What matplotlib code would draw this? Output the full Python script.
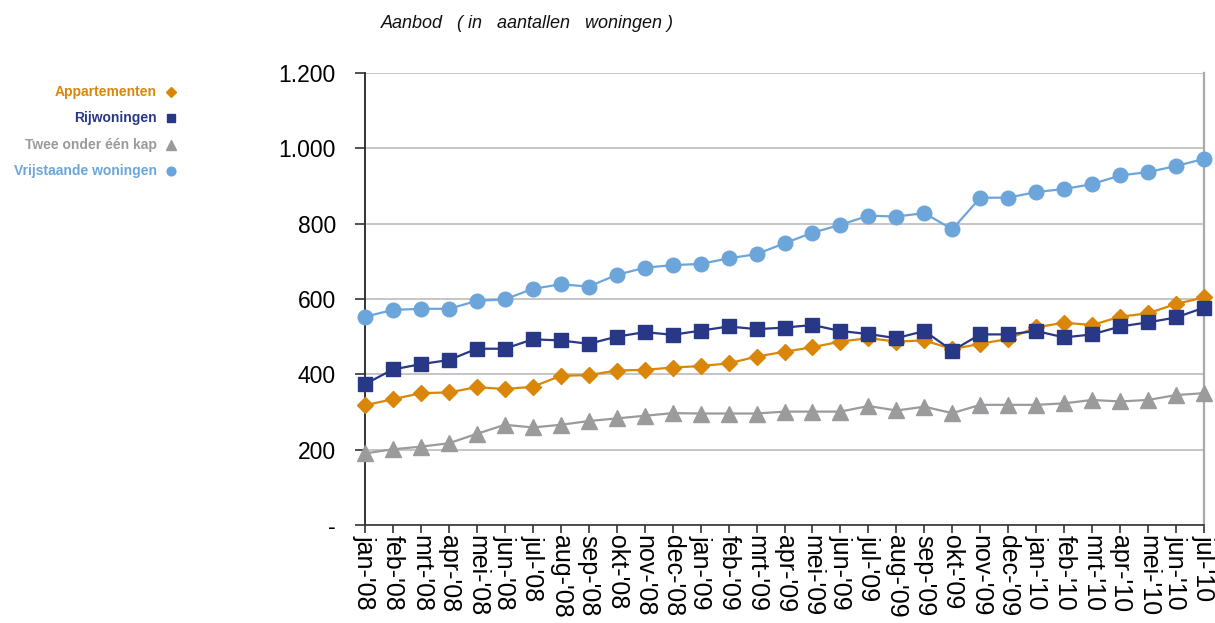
import numpy as np
import matplotlib

matplotlib.use("Agg")
import matplotlib.pyplot as plt

plt.rcParams["font.family"] = ["Liberation Sans", "DejaVu Sans"]

MONTHS = ["jan", "feb", "mrt", "apr", "mei", "jun", "jul", "aug", "sep", "okt", "nov", "dec"]
LABELS = [f"{m}-'{y:02d}" for y in (8, 9, 10) for m in MONTHS][:31]

appartementen = [318, 334, 350, 352, 366, 361, 367, 396, 398, 410, 412, 418,
                 422, 429, 447, 460, 472, 487, 496, 487, 490, 467, 481, 494,
                 525, 537, 531, 553, 562, 587, 604]
rijwoningen = [374, 413, 427, 438, 468, 468, 493, 490, 481, 500, 512, 505,
               516, 527, 520, 524, 531, 515, 507, 496, 515, 463, 506, 506,
               515, 498, 506, 527, 538, 551, 577]
twee_onder_een_kap = [190, 201, 208, 217, 242, 266, 259, 266, 276, 283, 290, 297,
                      296, 296, 296, 301, 301, 301, 316, 304, 314, 297, 319, 319,
                      319, 323, 332, 328, 332, 345, 350]
vrijstaand = [553, 571, 574, 574, 595, 599, 627, 639, 633, 664, 683, 690,
              693, 708, 719, 748, 776, 797, 821, 819, 828, 785, 869, 869,
              884, 892, 905, 928, 937, 953, 972]

SERIES = [
    ("Appartementen", appartementen, "#DA8608", "D", 8.5),
    ("Rijwoningen", rijwoningen, "#283886", "s", 10.5),
    ("Twee onder één kap", twee_onder_een_kap, "#9B9B9D", "^", 11),
    ("Vrijstaande woningen", vrijstaand, "#6CA5DA", "o", 10.5),
]

fig = plt.figure(figsize=(12.15, 6.23), dpi=100)
ax = fig.add_axes([365 / 1215, 1 - 525 / 623, (1204 - 365) / 1215, (525 - 73) / 623])

x = np.arange(len(LABELS))
for name, vals, col, mk, ms in SERIES:
    ax.plot(x, vals, color=col, lw=1.6, marker=mk, ms=ms, mec=col, clip_on=False, zorder=3)

ax.set_xlim(0, len(LABELS) - 1)
ax.set_ylim(0, 1200)
ax.set_yticks(range(0, 1201, 200))
ax.set_yticklabels(["-", "200", "400", "600", "800", "1.000", "1.200"], fontsize=16.5)
ax.set_xticks(x)
ax.set_xticklabels(LABELS, rotation=-90, fontsize=18, va="top", ha="center")
ax.grid(axis="y", color="#BBBBBB", lw=1.2)
ax.set_axisbelow(True)
ax.tick_params(axis="y", length=7, width=1.2, color="#333333", pad=14)
ax.tick_params(axis="x", length=6, width=1.2, color="#333333", pad=1)
ax.spines["top"].set_visible(False)
ax.spines["right"].set_color("#AAAAAA")
ax.spines["right"].set_linewidth(1.6)
ax.spines["left"].set_color("#333333")
ax.spines["left"].set_linewidth(1.4)
ax.spines["bottom"].set_color("#333333")
ax.spines["bottom"].set_linewidth(1.2)

fig.text(381 / 1215, 1 - 24 / 623, "Aanbod   ( in   aantallen   woningen )",
         fontsize=13, style="italic", ha="left", va="center", color="#111111")

# legend drawn by hand, text right-aligned with marker after it
rows_y = [92, 118, 145, 171]
for (name, vals, col, mk, ms), yy in zip(SERIES, rows_y):
    fy = 1 - yy / 623
    fig.text(157 / 1215, fy, name, fontsize=10, fontweight="bold", color=col,
             ha="right", va="center")
    fig.lines.append(plt.Line2D([171 / 1215], [fy], transform=fig.transFigure,
                                marker=mk, ms=ms * 0.6, color=col, ls="none"))

fig.savefig("out.png", dpi=100)
